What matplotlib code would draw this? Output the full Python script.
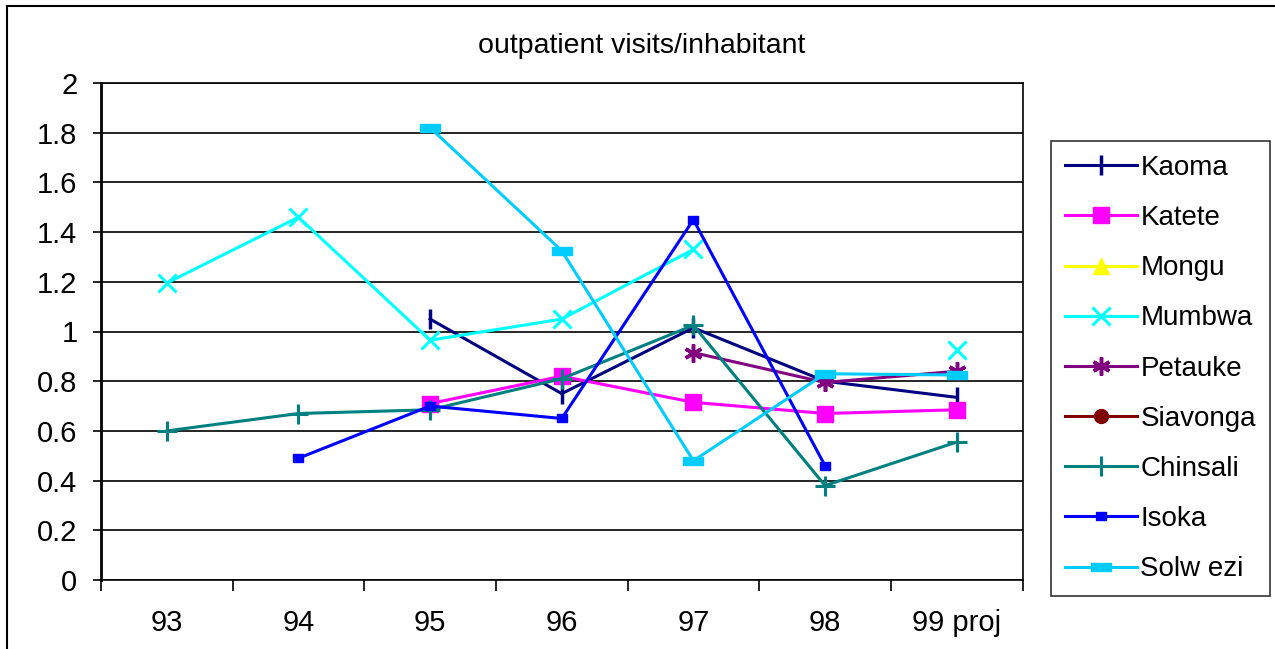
import numpy as np
import matplotlib.pyplot as plt
from matplotlib.lines import Line2D

plt.rcParams['font.family'] = ['Liberation Sans', 'DejaVu Sans']

years = ["93", "94", "95", "96", "97", "98", "99 proj"]
nan = np.nan

# outpatient visits / inhabitant
kaoma    = [nan, nan, 1.05, 0.75, 1.015, 0.80, 0.735]
katete   = [nan, nan, 0.71, 0.82, 0.715, 0.67, 0.685]
mongu    = [nan, nan, nan, nan, nan, nan, nan]
mumbwa   = [1.195, 1.46, 0.965, 1.05, 1.33, nan, 0.925]
petauke  = [nan, nan, nan, nan, 0.915, 0.795, 0.84]
siavonga = [nan, nan, nan, nan, nan, nan, nan]
chinsali = [0.60, 0.67, 0.685, 0.81, 1.025, 0.38, 0.555]
isoka    = [nan, 0.49, 0.70, 0.65, 1.45, 0.46, nan]
solwezi  = [nan, nan, 1.82, 1.325, 0.48, 0.83, 0.825]

# 寬長方形的 marker
wide_rect = [(-1, -0.4), (1, -0.4), (1, 0.4), (-1, 0.4), (-1, -0.4)]
small_rect = [(-1, -0.8), (1, -0.8), (1, 0.8), (-1, 0.8), (-1, -0.8)]

series = [
    ("Kaoma",    kaoma,    "#000080", "|",          14, 2.5),
    ("Katete",   katete,   "#FF00FF", "s",          11, 1),
    ("Mongu",    mongu,    "#FFFF00", "^",          11, 1),
    ("Mumbwa",   mumbwa,   "#00FFFF", "x",          13, 2.2),
    ("Petauke",  petauke,  "#800080", (6, 2, 0),    13, 2.5),
    ("Siavonga", siavonga, "#800000", "o",          10, 1),
    ("Chinsali", chinsali, "#008080", "+",          15, 2.2),
    ("Isoka",    isoka,    "#0000FF", small_rect,   7,  1),
    ("Solw ezi", solwezi,  "#00CCFF", wide_rect,    15, 1),
]

fig = plt.figure(figsize=(12.75, 6.49), dpi=100)
ax = fig.add_axes([101/1275, 1-580/649, (1022.5-101)/1275, (580-83)/649])

x = np.arange(len(years))
for name, vals, col, mk, ms, mew in series:
    ax.plot(x, vals, color=col, lw=2.2, marker=mk, markersize=ms,
            markeredgewidth=mew, markerfacecolor=col, markeredgecolor=col,
            label=name, clip_on=False)

ax.set_xlim(-0.5, len(years)-0.5)
ax.set_ylim(0, 2)
ax.set_yticks(np.arange(0, 2.01, 0.2))
ax.set_yticklabels(["0", "0.2", "0.4", "0.6", "0.8", "1", "1.2", "1.4", "1.6", "1.8", "2"])
ax.yaxis.grid(True, color="black", lw=1.2)
ax.set_axisbelow(True)

# 刻度在類別中間的邊界，標籤在中間
ax.set_xticks(np.arange(-0.5, len(years), 1))
ax.set_xticklabels([""]*(len(years)+1))
ax.set_xticks(x, minor=True)
ax.set_xticklabels(years, minor=True)
ax.tick_params(axis="x", which="major", length=8, width=1.2, color="black")
ax.tick_params(axis="x", which="minor", length=0, pad=21, labelsize=21)
ax.tick_params(axis="y", length=6, width=1.2, pad=11, labelsize=21)

for s in ax.spines.values():
    s.set_color("black")
    s.set_linewidth(1.2)
ax.spines["left"].set_linewidth(2)

fig.text(642/1275, 1-46/649, "outpatient visits/inhabitant", ha="center", va="center", fontsize=20.5)

leg = fig.legend(loc="upper left", bbox_to_anchor=(1051/1275, 1-141/649),
                 bbox_transform=fig.transFigure, fontsize=20, frameon=True,
                 fancybox=False, edgecolor="black", handlelength=2.6,
                 labelspacing=0.87, borderaxespad=0, borderpad=0.5, handletextpad=0.12)
leg.get_frame().set_linewidth(1.2)

# 外框 (只看得到左邊和上面)
fig.add_artist(Line2D([7/1275, 7/1275], [0, 1-6/649], color="black", lw=1.5, transform=fig.transFigure))
fig.add_artist(Line2D([7/1275, 1], [1-6/649, 1-6/649], color="black", lw=1.5, transform=fig.transFigure))

plt.savefig("out.png", dpi=100)
